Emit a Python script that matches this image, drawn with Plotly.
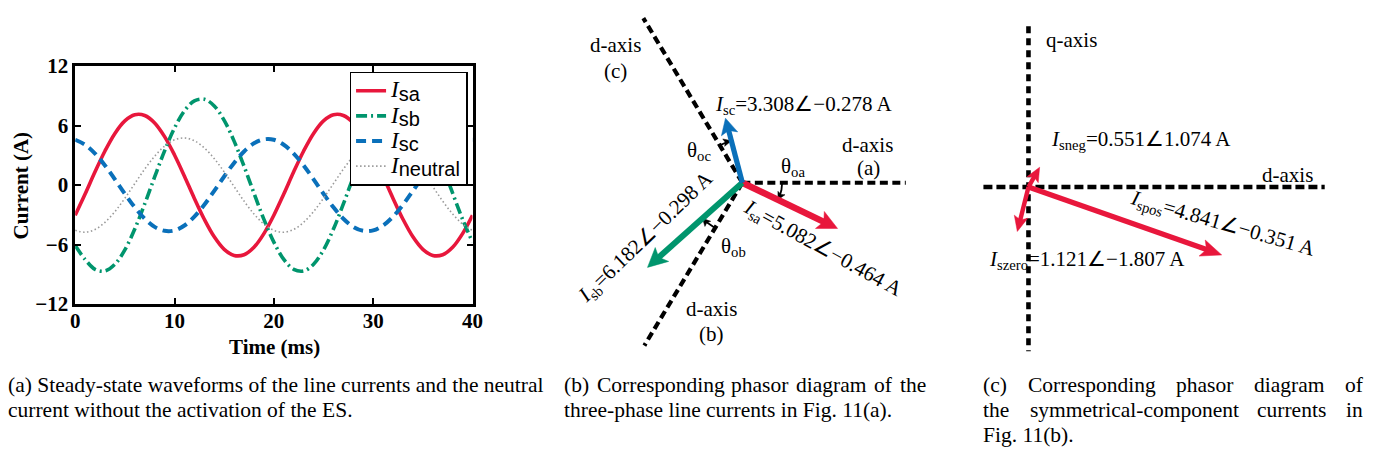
import numpy as np
import plotly.graph_objects as go

W, H = 1378, 466
SERIF = "Liberation Serif"
SANS = "Liberation Sans"

# ---------------- (a) steady-state waveforms, 1 ms samples ----------------
time_ms = list(range(0, 41))
i_sa = [-3.04, -0.90, 1.34, 3.44, 5.21, 6.47, 7.09, 7.02, 6.27, 4.89, 3.04, 0.90, -1.34, -3.44,
        -5.21, -6.47, -7.09, -7.02, -6.27, -4.89, -3.04, -0.90, 1.34, 3.44, 5.21, 6.47, 7.09,
        7.02, 6.27, 4.89, 3.04, 0.90, -1.34, -3.44, -5.21, -6.47, -7.09, -7.02, -6.27, -4.89, -3.04]
i_sb = [-6.10, -7.49, -8.49, -8.66, -7.98, -6.53, -4.43, -1.90, 0.82, 3.45, 5.75, 7.49, 8.49, 8.66,
        7.98, 6.53, 4.43, 1.90, -0.82, -3.45, -5.75, -7.49, -8.49, -8.66, -7.98, -6.53, -4.43,
        -1.90, 0.82, 3.45, 5.75, 7.49, 8.49, 8.66, 7.98, 6.53, 4.43, 1.90, -0.82, -3.45, -5.75]
i_sc = [4.57, 4.07, 3.18, 1.98, 0.58, -0.87, -2.24, -3.39, -4.21, -4.61, -4.57, -4.07, -3.18, -1.98,
        -0.58, 0.87, 2.24, 3.39, 4.21, 4.61, 4.57, 4.07, 3.18, 1.98, 0.58, -0.87, -2.24, -3.39,
        -4.21, -4.61, -4.57, -4.07, -3.18, -1.98, -0.58, 0.87, 2.24, 3.39, 4.21, 4.61, 4.57]
i_neutral = [-4.56, -4.75, -4.47, -3.75, -2.67, -1.33, 0.15, 1.61, 2.91, 3.93, 4.56, 4.75, 4.47, 3.75,
             2.67, 1.33, -0.15, -1.61, -2.91, -3.93, -4.56, -4.75, -4.47, -3.75, -2.67, -1.33, 0.15,
             1.61, 2.91, 3.93, 4.56, 4.75, 4.47, 3.75, 2.67, 1.33, -0.15, -1.61, -2.91, -3.93, -4.56]
x_ticks = [0, 10, 20, 30, 40]
y_ticks = [-12, -6, 0, 6, 12]

# ---------------- (b) line-current phasors (RMS A, rad from own d-axis) ----------------
line_names = ["sa", "sb", "sc"]
line_mag = [5.082, 6.182, 3.308]
line_ang = [-0.464, -0.298, -0.278]
d_axis_deg = [0.0, 240.0, 120.0]          # d-axis (a), (b), (c)
d_axis_len = [7.8, 9.35, 9.45]           # drawn length of each d-axis [A]

# ---------------- (c) symmetrical components ----------------
seq_names = ["spos", "sneg", "szero"]
seq_mag = [4.841, 0.551, 1.121]
seq_ang = [-0.351, 1.074, -1.807]

RED = "#E8173C"
GREEN = "#00956D"
BLUE = "#0A70BA"
GRAY = "#9A9A9A"

fig = go.Figure()


def px_x(px):
    return px / W


def px_y(py):
    return 1 - py / H


# ---- waveforms ----
styles = [
    ("sa", i_sa, dict(color=RED, width=3.6, dash="solid")),
    ("sb", i_sb, dict(color=GREEN, width=3.6, dash="11px,4px,2px,4px")),
    ("sc", i_sc, dict(color=BLUE, width=4, dash="10px,6px")),
    ("neutral", i_neutral, dict(color=GRAY, width=1.6, dash="1.5px,2.5px")),
]
leg_tpl = ("<span style='font-size:23px'><i>I</i></span>"
           "<sub><span style='font-family:%s;font-size:20px'>%s</span></sub>")
for sub, vals, ln in styles:
    fig.add_trace(go.Scatter(
        x=time_ms, y=vals, mode="lines", line=dict(shape="spline", smoothing=1.0, **ln),
        name=leg_tpl % (SANS, sub), xaxis="x", yaxis="y", showlegend=True))

# ---- panel geometry (pixel centre and px-per-ampere scale) ----
B_DOM = (560, 940, 0, 362)
B_C = (746, 180)
B_K = 21.2
C_DOM = (960, 1378, 0, 370)
C_C = (1035.5, 184.5)
C_K = 43.0


def ranges(dom, c, k):
    x0, x1, y0, y1 = dom
    return ([(x0 - c[0]) / k, (x1 - c[0]) / k], [(c[1] - y1) / k, (c[1] - y0) / k])


bxr, byr = ranges(B_DOM, B_C, B_K)
cxr, cyr = ranges(C_DOM, C_C, C_K)


def add_line(xs, ys, ax, line):
    fig.add_trace(go.Scatter(x=xs, y=ys, mode="lines", line=line, xaxis="x" + ax, yaxis="y" + ax,
                             showlegend=False, hoverinfo="skip"))


def add_arrow(ax, k, xt, yt, th, color, width, head_len, head_w, notch=0.22, x0=0.0, y0=0.0,
              shaft=True):
    """Phasor arrow ending at (xt, yt); head sizes given in pixels, k = px per unit."""
    L, Wd = head_len / k, head_w / k
    ux, uy = np.cos(th), np.sin(th)
    nx, ny = -uy, ux
    bx, by = xt - L * ux, yt - L * uy
    mx, my = xt - (1 - notch) * L * ux, yt - (1 - notch) * L * uy
    if shaft:
        add_line([x0, mx + 0.15 * L * ux], [y0, my + 0.15 * L * uy], ax,
                 dict(color=color, width=width))
    fig.add_trace(go.Scatter(
        x=[xt, bx + Wd / 2 * nx, mx, bx - Wd / 2 * nx, xt],
        y=[yt, by + Wd / 2 * ny, my, by - Wd / 2 * ny, yt],
        mode="lines", fill="toself", fillcolor=color, line=dict(color=color, width=0.5),
        xaxis="x" + ax, yaxis="y" + ax, showlegend=False, hoverinfo="skip"))


# d-axes of panel (b)
for deg, ln in zip(d_axis_deg, d_axis_len):
    r = np.deg2rad(deg)
    add_line([0, ln * np.cos(r)], [0, ln * np.sin(r)], "2",
             dict(color="black", width=4.2, dash="8px,4.5px"))

# d/q axes of panel (c)
add_line([-1.06, 6.97], [0, 0], "3", dict(color="black", width=4.6, dash="9px,4px"))
add_line([0, 0], [3.94, -4.03], "3", dict(color="black", width=4.6, dash="7px,5px"))

# angle arcs theta_oa / theta_ob / theta_oc
arc_r = [1.9, 2.6, 2.15]
for deg, ang, rr in zip(d_axis_deg, line_ang, arc_r):
    a0 = np.deg2rad(deg)
    a1 = a0 + ang
    t = np.linspace(a0, a1 - 0.25 * ang, 14)
    add_line(rr * np.cos(t), rr * np.sin(t), "2", dict(color="black", width=1.8))
    tang = a1 + (np.pi / 2 if ang > 0 else -np.pi / 2)
    add_arrow("2", B_K, rr * np.cos(a1), rr * np.sin(a1), tang, "black", 1.8, 8, 8,
              notch=0.2, shaft=False)

# phasors of panel (b)
line_cols = [RED, GREEN, BLUE]
line_w = [6.5, 6.0, 5.2]
head_l = [20, 20, 17]
head_wd = [20, 20, 17]
for mag, ang, deg, col, w, hl, hw in zip(line_mag, line_ang, d_axis_deg, line_cols, line_w,
                                         head_l, head_wd):
    th = np.deg2rad(deg) + ang
    add_arrow("2", B_K, mag * np.cos(th), mag * np.sin(th), th, col, w, hl, hw)

# phasors of panel (c)
seq_w = [5.4, 4.4, 4.4]
seq_hl = [21, 15, 16]
seq_hw = [18, 13, 14]
for mag, ang, w, hl, hw in zip(seq_mag, seq_ang, seq_w, seq_hl, seq_hw):
    add_arrow("3", C_K, mag * np.cos(ang), mag * np.sin(ang), ang, RED, w, hl, hw)

annotations = []


def label(xr, yr, x, y, text, angle=0, anchor="center", size=21):
    return dict(x=x, y=y, xref=xr, yref=yr, text=text, showarrow=False, textangle=angle,
                xanchor=anchor, yanchor="middle", font=dict(family=SERIF, size=size, color="black"))


def bpos(px, py):
    return (px - B_C[0]) / B_K, (B_C[1] - py) / B_K


def cpos(px, py):
    return (px - C_C[0]) / C_K, (C_C[1] - py) / C_K


def phasor_text(sub, mag, ang):
    return "<i>I</i><sub>%s</sub>=%.3f∠%s A" % (sub, mag, ("−%.3f" % -ang) if ang < 0 else "%.3f" % ang)


# texts of panel (b)
for (px, py), txt, rot in [
    ((617.5, 35), "d-axis", 0), ((617.5, 62), "(c)", 0),
    ((873, 140), "d-axis", 0), ((873.5, 164), "(a)", 0),
    ((715, 313), "d-axis", 0), ((715, 339), "(b)", 0),
    ((702, 147), "θ<sub>oc</sub>", 0), ((797, 163), "θ<sub>oa</sub>", 0),
    ((737, 248), "θ<sub>ob</sub>", 0),
    ((808, 98), phasor_text("sc", line_mag[2], line_ang[2]), 0),
    ((828, 250), phasor_text("sa", line_mag[0], line_ang[0]), 29),
    ((649, 237.5), phasor_text("sb", line_mag[1], line_ang[1]), -44),
]:
    x, y = bpos(px, py)
    annotations.append(label("x2", "y2", x, y, txt, rot))

# texts of panel (c)
x, y = cpos(1050.7, 29.3)
annotations.append(label("x3", "y3", x, y, "q-axis", 0, "left"))
for (px, py), txt, rot in [
    ((1298, 171.7), "d-axis", 0),
    ((1149, 135), phasor_text("sneg", seq_mag[1], seq_ang[1]), 0),
    ((1232, 224), phasor_text("spos", seq_mag[0], seq_ang[0]), 16),
    ((1095, 261.7), phasor_text("szero", seq_mag[2], seq_ang[2]), 0),
]:
    x, y = cpos(px, py)
    annotations.append(label("x3", "y3", x, y, txt, rot))

# axis titles of panel (a)
annotations.append(dict(x=px_x(16), y=px_y(183), xref="paper", yref="paper", text="<b>Current (A)</b>",
                        textangle=-90, showarrow=False, xanchor="center", yanchor="middle",
                        font=dict(family=SERIF, size=21, color="black")))
annotations.append(dict(x=px_x(273), y=px_y(353), xref="paper", yref="paper", text="<b>Time (ms)</b>",
                        showarrow=False, xanchor="center", yanchor="middle",
                        font=dict(family=SERIF, size=21, color="black")))

# sub-figure captions (justified lines are set word by word)
CAP = 21.5


def cap(px, py, text):
    return dict(x=px_x(px), y=px_y(py), xref="paper", yref="paper", text=text, showarrow=False,
                xanchor="left", yanchor="middle", font=dict(family=SERIF, size=CAP, color="black"))


annotations.append(cap(1, 393, "(a) Steady-state waveforms of the line currents and the neutral"))
annotations.append(cap(1, 420, "current without the activation of the ES."))
for px, w in zip([564, 597, 733, 798, 877, 903],
                 ["(b)", "Corresponding", "phasor", "diagram", "of", "the"]):
    annotations.append(cap(px, 393, w))
annotations.append(cap(564, 420, "three-phase line currents in Fig. 11(a)."))
for px, w in zip([987, 1033, 1183, 1262, 1354], ["(c)", "Corresponding", "phasor", "diagram", "of"]):
    annotations.append(cap(px, 393, w))
for px, w in zip([987, 1035, 1265, 1355], ["the", "symmetrical-component", "currents", "in"]):
    annotations.append(cap(px, 420, w))
annotations.append(cap(987, 446, "Fig. 11(b)."))

hidden = dict(visible=False, showgrid=False, zeroline=False, fixedrange=True)
tick_font = dict(family=SERIF, size=21, color="black", weight="bold")

fig.update_layout(
    width=W, height=H, autosize=False,
    margin=dict(l=0, r=0, t=0, b=0),
    paper_bgcolor="white", plot_bgcolor="white",
    xaxis=dict(domain=[px_x(71), px_x(473)], range=[0, 40], tickvals=x_ticks,
               ticks="inside", ticklen=6, tickwidth=1.5, tickcolor="black",
               showline=True, linewidth=2.5, linecolor="black", mirror="ticks",
               showgrid=False, zeroline=False, tickfont=tick_font, ticklabelstandoff=-4),
    yaxis=dict(domain=[px_y(308), px_y(57)], range=[-12, 12], tickvals=y_ticks,
               ticks="inside", ticklen=6, tickwidth=1.5, tickcolor="black",
               showline=True, linewidth=2.5, linecolor="black", mirror="ticks",
               showgrid=False, zeroline=False, tickfont=tick_font),
    xaxis2=dict(domain=[px_x(B_DOM[0]), px_x(B_DOM[1])], range=bxr, anchor="y2", **hidden),
    yaxis2=dict(domain=[px_y(B_DOM[3]), px_y(B_DOM[2])], range=byr, anchor="x2", **hidden),
    xaxis3=dict(domain=[px_x(C_DOM[0]), px_x(C_DOM[1])], range=cxr, anchor="y3", **hidden),
    yaxis3=dict(domain=[px_y(C_DOM[3]), px_y(C_DOM[2])], range=cyr, anchor="x3", **hidden),
    legend=dict(x=px_x(468), y=px_y(63), xanchor="right", yanchor="top",
                bgcolor="white", bordercolor="black", borderwidth=1.5,
                font=dict(family=SERIF, size=17, color="black"), tracegroupgap=0,
                itemwidth=30),
    showlegend=True,
    annotations=annotations,
)

fig.write_html("out.html")
